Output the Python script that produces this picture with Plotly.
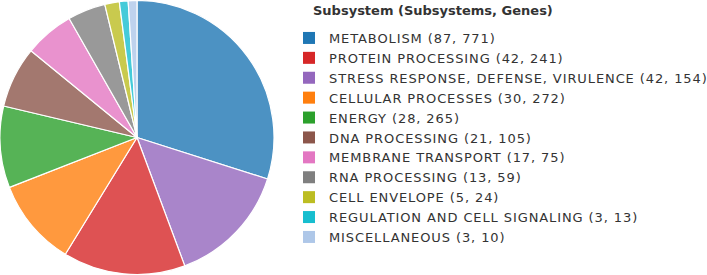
import plotly.graph_objects as go

# legend order
categories = ["METABOLISM", "PROTEIN PROCESSING", "STRESS RESPONSE, DEFENSE, VIRULENCE",
              "CELLULAR PROCESSES", "ENERGY", "DNA PROCESSING", "MEMBRANE TRANSPORT",
              "RNA PROCESSING", "CELL ENVELOPE", "REGULATION AND CELL SIGNALING", "MISCELLANEOUS"]
subsystems = [87, 42, 42, 30, 28, 21, 17, 13, 5, 3, 3]
genes = [771, 241, 154, 272, 265, 105, 75, 59, 24, 13, 10]
colors = ["#1f77b4", "#d62728", "#9467bd", "#ff7f0e", "#2ca02c", "#8c564b",
          "#e377c2", "#7f7f7f", "#bcbd22", "#17becf", "#aec7e8"]
# order of slices going clockwise in the pie
pie_order = [0, 2, 1, 3, 4, 5, 6, 7, 8, 9, 10]
legend_title = "Subsystem (Subsystems, Genes)"

labels = [f"{c} ({s}, {g})" for c, s, g in zip(categories, subsystems, genes)]

def rgba(h, a):
    h = h.lstrip("#")
    return f"rgba({int(h[0:2],16)},{int(h[2:4],16)},{int(h[4:6],16)},{a})"

fig = go.Figure()
# legend carrier (tiny, invisible)
fig.add_trace(go.Pie(
    labels=labels, values=subsystems, sort=False, direction="clockwise",
    marker=dict(colors=colors, line=dict(width=0)), textinfo="none",
    domain=dict(x=[0.9995, 1], y=[0, 0.0005]), showlegend=True, hoverinfo="skip"))
# visible pie
fig.add_trace(go.Pie(
    labels=[labels[i] for i in pie_order], values=[subsystems[i] for i in pie_order],
    sort=False, direction="clockwise", rotation=0,
    marker=dict(colors=[rgba(colors[i], 0.8) for i in pie_order],
                line=dict(color="white", width=1.2)),
    textinfo="none", showlegend=False,
    domain=dict(x=[0, 274/707], y=[0, 1])))

fig.update_layout(
    width=707, height=275, margin=dict(l=0, r=0, t=0, b=0),
    paper_bgcolor="white", plot_bgcolor="white",
    font=dict(family="DejaVu Sans", color="#333333"),
    legend=dict(x=289/707, y=1 - 23/275, xanchor="left", yanchor="top",
                font=dict(size=13, family="DejaVu Sans", color="#333333"),
                tracegroupgap=0, itemclick=False, itemdoubleclick=False),
    annotations=[dict(text=f"<b>{legend_title}</b>", xref="paper", yref="paper",
                      x=311/707, y=1 - 10/275, xanchor="left", yanchor="middle",
                      showarrow=False, font=dict(size=13, family="DejaVu Sans", color="#333333"))],
)
fig.write_html(
    "out.html",
    config={"displayModeBar": False},
    post_script=("document.body.style.margin='0px';document.body.style.padding='0px';"
                 "document.querySelectorAll('.legendtext').forEach(function(e){e.style.letterSpacing='0.9px';});"
                 "document.querySelectorAll('.legend [clip-path]').forEach(function(e){e.removeAttribute('clip-path');});"),
)
